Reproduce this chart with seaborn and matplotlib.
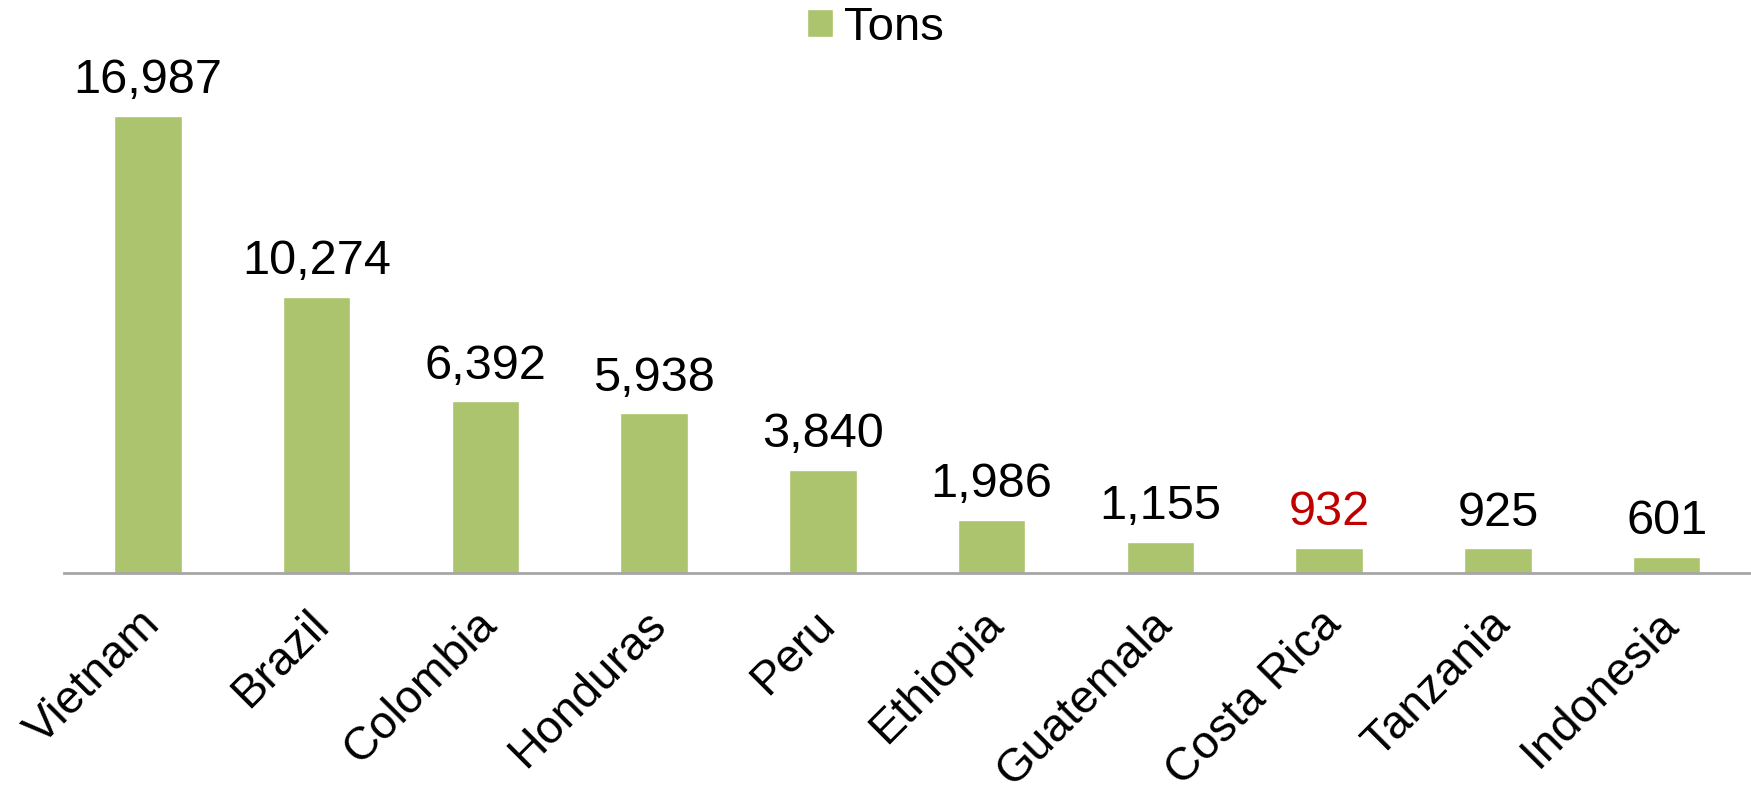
import pandas as pd
import matplotlib.pyplot as plt
import matplotlib.transforms as mtransforms
import seaborn as sns

#%% data
countries = ["Vietnam", "Brazil", "Colombia", "Honduras", "Peru",
             "Ethiopia", "Guatemala", "Costa Rica", "Tanzania", "Indonesia"]
tons = [16987, 10274, 6392, 5938, 3840, 1986, 1155, 932, 925, 601]
highlight = "Costa Rica"

df = pd.DataFrame({"country": countries, "tons": tons})

#%% chart
sns.set_style("white")
plt.rcParams["font.family"] = ["Liberation Sans", "DejaVu Sans"]

fig = plt.figure(figsize=(17.51, 7.96), dpi=100)
ax = fig.add_axes([0.0363, 0.2802, 0.9637, 0.6759])

sns.barplot(data=df, x="country", y="tons", color="#ABC46D",
            width=0.4, saturation=1, label="Tons", ax=ax)

labels = ax.bar_label(ax.containers[0], fmt="{:,.0f}", padding=9, fontsize=35)
for txt, c in zip(labels, countries):
    txt.set_color("#C00000" if c == highlight else "black")

ax.set_ylim(0, 20000)
ax.set_xlim(-0.5, len(countries) - 0.5)
ax.set_xlabel("")
ax.set_ylabel("")
ax.set_yticks([])
ax.tick_params(axis="x", length=0, pad=28, labelsize=33.5, labelcolor="black")

# shift tick labels a bit right and down, like the original
shift = mtransforms.ScaledTranslation(5 / 100, -6 / 100, fig.dpi_scale_trans)
for lab in ax.get_xticklabels():
    lab.set_rotation(45)
    lab.set_ha("right")
    lab.set_va("center")
    lab.set_rotation_mode("anchor")
    lab.set_transform(lab.get_transform() + shift)

for s in ["top", "right", "left"]:
    ax.spines[s].set_visible(False)
ax.spines["bottom"].set_color("#A6A6A6")
ax.spines["bottom"].set_linewidth(2)

# legend centred on the figure, not the axes
leg = ax.legend(loc="center", bbox_to_anchor=(0.5, 0.965),
                bbox_transform=fig.transFigure, frameon=False,
                fontsize=34, handlelength=0.55, handleheight=0.55,
                handletextpad=0.25, borderaxespad=0, borderpad=0)
for t in leg.get_texts():
    t.set_color("black")

fig.savefig("out.png", dpi=100)
